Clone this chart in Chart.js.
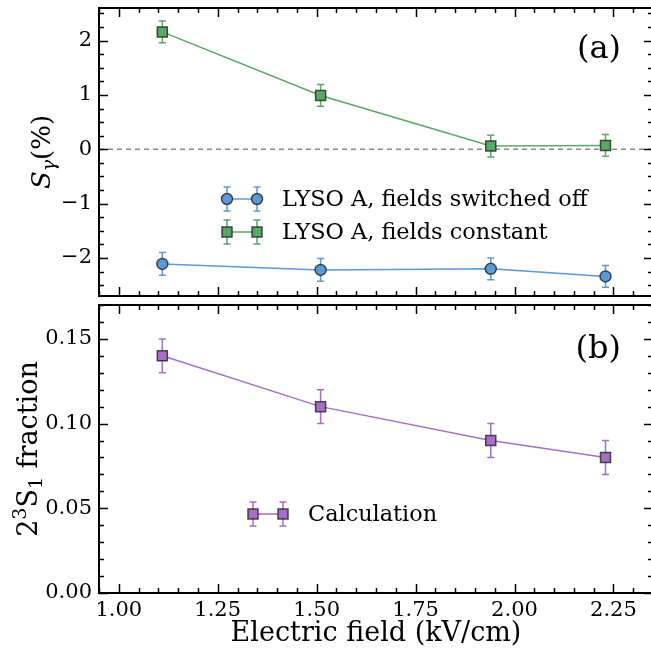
<!DOCTYPE html>
<html>
<head>
<meta charset="utf-8">
<script src="https://cdn.jsdelivr.net/npm/chart.js@4"></script>
<style>
html, body { margin: 0; padding: 0; background: #fff; }
#wrap { position: relative; width: 651px; height: 651px; overflow: hidden; }
canvas { position: absolute; left: 0; }
</style>
</head>
<body>
<div id="wrap">
  <canvas id="topChart" width="656" height="300" style="top:0"></canvas>
  <canvas id="botChart" width="656" height="354" style="top:297px"></canvas>
</div>
<script>
// Data
const fieldValues = [1.11, 1.51, 1.94, 2.23];

const switchedOff = [-2.11, -2.22, -2.20, -2.34];
const switchedOffErr = [0.21, 0.21, 0.20, 0.20];

const fieldsConstant = [2.16, 0.99, 0.06, 0.07];
const fieldsConstantErr = [0.20, 0.20, 0.20, 0.20];

const calcFraction = [0.14, 0.11, 0.09, 0.08];
const calcFractionErr = [0.01, 0.01, 0.01, 0.01];

const xTicks = [1.00, 1.25, 1.50, 1.75, 2.00, 2.25];
const xTickLabels = ['1.00', '1.25', '1.50', '1.75', '2.00', '2.25'];
const topYTicks = [-2, -1, 0, 1, 2];
const topYTickLabels = ['\u22122', '\u22121', '0', '1', '2'];
const botYTicks = [0, 0.05, 0.10, 0.15];
const botYTickLabels = ['0.00', '0.05', '0.10', '0.15'];

const BLUE = '#5a9ad8';
const GREEN = '#5aa865';
const PURPLE = '#a56fc6';
const EDGE = 'rgba(45,45,45,0.85)';
const SERIF = '"DejaVu Serif", serif';

Chart.defaults.font.family = SERIF;
Chart.defaults.color = '#000';

function points(xs, ys) {
    return xs.map((x, i) => ({ x: x, y: ys[i] }));
}

function minorTicks(min, max, step) {
    const out = [];
    const start = Math.ceil(min / step - 1e-9);
    for (let k = start; k * step <= max + 1e-9; k++) out.push(+(k * step).toFixed(6));
    return out;
}

function drawMarker(ctx, style, x, y, color) {
    ctx.save();
    ctx.fillStyle = color;
    ctx.strokeStyle = EDGE;
    ctx.lineWidth = 1.5;
    ctx.beginPath();
    if (style === 'circle') {
        ctx.arc(x, y, 5.5, 0, Math.PI * 2);
    } else {
        ctx.rect(x - 5, y - 5, 10, 10);
    }
    ctx.fill();
    ctx.stroke();
    ctx.restore();
}

function drawErrBar(ctx, x, y1, y2, color) {
    ctx.save();
    ctx.strokeStyle = color;
    ctx.lineWidth = 1.5;
    ctx.beginPath();
    ctx.moveTo(x, y1); ctx.lineTo(x, y2);
    ctx.moveTo(x - 3.5, y1); ctx.lineTo(x + 3.5, y1);
    ctx.moveTo(x - 3.5, y2); ctx.lineTo(x + 3.5, y2);
    ctx.stroke();
    ctx.restore();
}

// draws a rotated label made of several runs (sub/superscripts)
function drawRotatedRich(ctx, runs, cy, baseX) {
    ctx.save();
    let total = 0;
    runs.forEach(r => { ctx.font = r.font; r.w = ctx.measureText(r.text).width; total += r.w; });
    ctx.translate(baseX, cy);
    ctx.rotate(-Math.PI / 2);
    ctx.fillStyle = '#000';
    ctx.textBaseline = 'alphabetic';
    ctx.textAlign = 'left';
    let pos = -total / 2;
    runs.forEach(r => {
        ctx.font = r.font;
        ctx.fillText(r.text, pos, r.dy || 0);
        pos += r.w;
    });
    ctx.restore();
}

const panelDeco = {
    id: 'panelDeco',
    beforeDatasetsDraw(chart, args, opts) {
        const ctx = chart.ctx;
        const xs = chart.scales.x, ys = chart.scales.y;
        const area = chart.chartArea;
        if (opts.zeroLine) {
            const py = ys.getPixelForValue(0);
            ctx.save();
            ctx.strokeStyle = '#8a8a8a';
            ctx.lineWidth = 1.5;
            ctx.setLineDash([5, 4]);
            ctx.beginPath();
            ctx.moveTo(area.left, py);
            ctx.lineTo(area.right, py);
            ctx.stroke();
            ctx.restore();
        }
        chart.data.datasets.forEach(ds => {
            ds.data.forEach((p, i) => {
                drawErrBar(ctx, xs.getPixelForValue(p.x),
                    ys.getPixelForValue(p.y - ds.errors[i]),
                    ys.getPixelForValue(p.y + ds.errors[i]), ds.borderColor);
            });
        });
    },
    afterDraw(chart, args, opts) {
        const ctx = chart.ctx;
        const xs = chart.scales.x, ys = chart.scales.y;
        const a = chart.chartArea;
        ctx.save();
        ctx.strokeStyle = '#000';
        ctx.lineWidth = 1.5;
        ctx.beginPath();
        const xMinor = minorTicks(xs.min, xs.max, 0.05);
        xMinor.forEach(v => {
            const px = Math.round(xs.getPixelForValue(v)) + 0.5;
            const len = xTicks.some(m => Math.abs(m - v) < 1e-6) ? 9 : 5;
            ctx.moveTo(px, a.bottom); ctx.lineTo(px, a.bottom - len);
            ctx.moveTo(px, a.top); ctx.lineTo(px, a.top + len);
        });
        opts.yMinor.forEach(v => {
            const py = Math.round(ys.getPixelForValue(v)) + 0.5;
            const len = opts.yMajor.some(m => Math.abs(m - v) < 1e-6) ? 9 : 5;
            ctx.moveTo(a.left, py); ctx.lineTo(a.left + len, py);
            ctx.moveTo(a.right, py); ctx.lineTo(a.right - len, py);
        });
        ctx.stroke();
        ctx.lineWidth = 2;
        ctx.strokeRect(a.left, a.top, a.right - a.left, a.bottom - a.top);
        ctx.restore();

        // panel tag
        ctx.save();
        ctx.font = '32px ' + SERIF;
        ctx.fillStyle = '#000';
        ctx.textAlign = 'right';
        ctx.textBaseline = 'alphabetic';
        ctx.fillText(opts.tag, 621, opts.tagY);
        ctx.restore();

        // legend
        chart.data.datasets.forEach((ds, i) => {
            const y = opts.legendRows[i];
            const x1 = opts.legendX, x2 = opts.legendX + 30;
            ctx.save();
            ctx.strokeStyle = ds.borderColor;
            ctx.lineWidth = 1.5;
            ctx.beginPath(); ctx.moveTo(x1, y); ctx.lineTo(x2, y); ctx.stroke();
            ctx.restore();
            drawErrBar(ctx, x1, y - 12, y + 12, ds.borderColor);
            drawErrBar(ctx, x2, y - 12, y + 12, ds.borderColor);
            drawMarker(ctx, ds.pointStyle, x1, y, ds.pointBackgroundColor);
            drawMarker(ctx, ds.pointStyle, x2, y, ds.pointBackgroundColor);
            ctx.save();
            ctx.font = '22.4px ' + SERIF;
            ctx.fillStyle = '#000';
            ctx.textBaseline = 'middle';
            ctx.fillText(ds.label, x2 + 25, y + 1);
            ctx.restore();
        });

        drawRotatedRich(ctx, opts.yTitle, (a.top + a.bottom) / 2, opts.yTitleX);
    }
};

function makeDataset(label, ys, errs, color, style) {
    return {
        label: label,
        data: points(fieldValues, ys),
        errors: errs,
        borderColor: color,
        borderWidth: 1.5,
        pointStyle: style,
        pointRadius: style === 'rect' ? 7.07 : 5.5,
        pointBackgroundColor: color,
        pointBorderColor: EDGE,
        pointBorderWidth: 1.5,
        tension: 0
    };
}

function yScale(min, max, ticks, labels) {
    return {
        type: 'linear',
        min: min,
        max: max,
        grid: { display: false, drawTicks: false },
        border: { display: false },
        afterBuildTicks: s => { s.ticks = ticks.map(v => ({ value: v })); },
        afterFit: s => { s.width = 99; s.paddingTop = 0; s.paddingBottom = 0; },
        ticks: {
            padding: 7,
            font: { size: 21 },
            callback: (v, i) => labels[i]
        }
    };
}

function xScale(showLabels) {
    return {
        type: 'linear',
        min: 0.95,
        max: 2.35,
        display: showLabels,
        grid: { display: false, drawTicks: false },
        border: { display: false },
        afterBuildTicks: s => { s.ticks = xTicks.map(v => ({ value: v })); },
        afterFit: s => {
            s.paddingLeft = 0; s.paddingRight = 0;
            if (showLabels) s.height = 58;
        },
        ticks: {
            padding: 5,
            maxRotation: 0,
            autoSkip: false,
            font: { size: 21 },
            callback: (v, i) => xTickLabels[i]
        },
        title: {
            display: showLabels,
            text: 'Electric field (kV/cm)',
            font: { size: 27 },
            padding: { top: 0, bottom: 1 }
        }
    };
}

new Chart(document.getElementById('topChart'), {
    type: 'line',
    data: {
        datasets: [
            makeDataset('LYSO A, fields switched off', switchedOff, switchedOffErr, BLUE, 'circle'),
            makeDataset('LYSO A, fields constant', fieldsConstant, fieldsConstantErr, GREEN, 'rect')
        ]
    },
    options: {
        responsive: false,
        animation: false,
        events: [],
        layout: { autoPadding: false, padding: { top: 8, bottom: 4, right: 3, left: 0 } },
        scales: {
            x: xScale(false),
            y: yScale(-2.7, 2.6, topYTicks, topYTickLabels)
        },
        plugins: {
            legend: { display: false },
            tooltip: { enabled: false },
            panelDeco: {
                tag: '(a)',
                tagY: 58,
                zeroLine: true,
                yMajor: topYTicks,
                yMinor: minorTicks(-2.7, 2.6, 0.25),
                legendX: 227,
                legendRows: [199, 232],
                yTitleX: 50,
                yTitle: [
                    { text: 'S', font: 'italic 26px ' + SERIF },
                    { text: '\u03b3', font: 'italic 19px ' + SERIF, dy: 5 },
                    { text: '(%)', font: '26px ' + SERIF }
                ]
            }
        }
    },
    plugins: [panelDeco]
});

new Chart(document.getElementById('botChart'), {
    type: 'line',
    data: {
        datasets: [
            makeDataset('Calculation', calcFraction, calcFractionErr, PURPLE, 'rect')
        ]
    },
    options: {
        responsive: false,
        animation: false,
        events: [],
        layout: { autoPadding: false, padding: { top: 8, bottom: 0, right: 3, left: 0 } },
        scales: {
            x: xScale(true),
            y: yScale(0, 0.17, botYTicks, botYTickLabels)
        },
        plugins: {
            legend: { display: false },
            tooltip: { enabled: false },
            panelDeco: {
                tag: '(b)',
                tagY: 61,
                zeroLine: false,
                yMajor: botYTicks,
                yMinor: minorTicks(0, 0.17, 0.01),
                legendX: 253,
                legendRows: [217],
                yTitleX: 37,
                yTitle: [
                    { text: '2', font: '27px ' + SERIF },
                    { text: '3', font: '19px ' + SERIF, dy: -11 },
                    { text: 'S', font: '27px ' + SERIF },
                    { text: '1', font: '19px ' + SERIF, dy: 5 },
                    { text: ' fraction', font: '27px ' + SERIF }
                ]
            }
        }
    },
    plugins: [panelDeco]
});
</script>
</body>
</html>
